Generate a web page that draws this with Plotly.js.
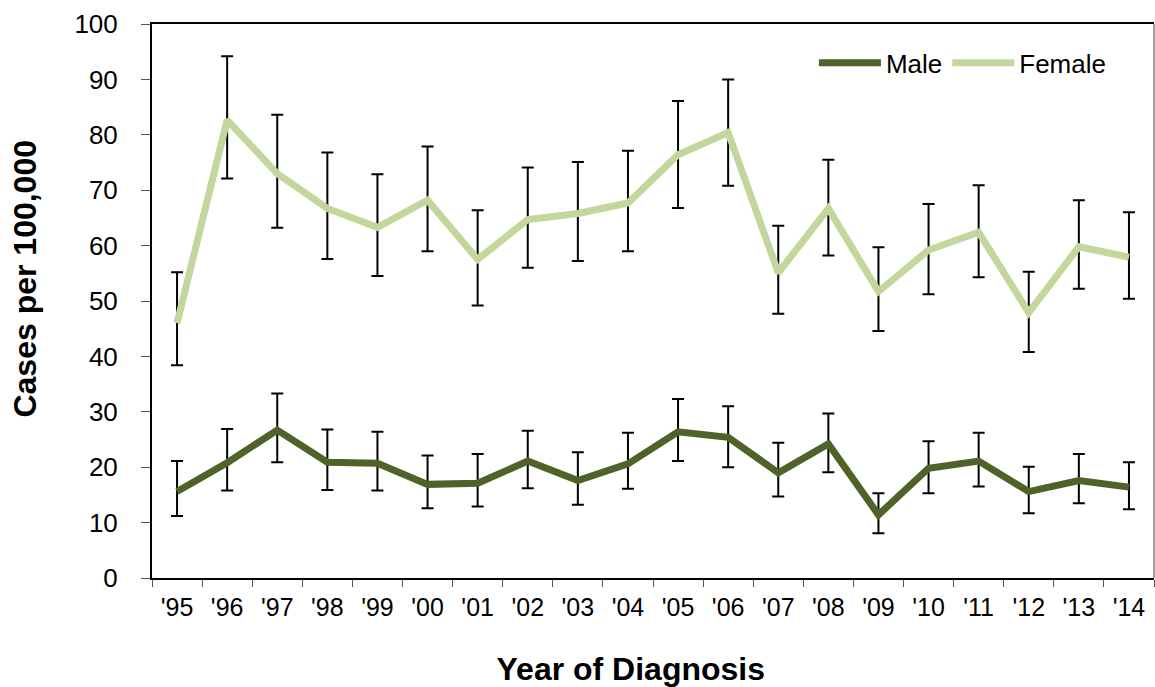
<!DOCTYPE html>
<html>
<head>
<meta charset="utf-8">
<script src="https://cdn.plot.ly/plotly-3.0.1.min.js"></script>
<style>html,body{margin:0;padding:0;background:#fff;}#chart{width:1155px;height:687px;}</style>
</head>
<body>
<div id="chart"></div>
<script>
const years = ["'95","'96","'97","'98","'99","'00","'01","'02","'03","'04","'05","'06","'07","'08","'09","'10","'11","'12","'13","'14"];

const maleRate  = [15.6, 20.8, 26.7, 20.9, 20.7, 16.9, 17.1, 21.1, 17.6, 20.6, 26.4, 25.4, 19.0, 24.2, 11.4, 19.8, 21.1, 15.6, 17.6, 16.4];
const maleUpper = [21.1, 26.9, 33.3, 26.8, 26.4, 22.1, 22.4, 26.6, 22.7, 26.2, 32.3, 31.0, 24.4, 29.7, 15.3, 24.7, 26.2, 20.1, 22.4, 20.9];
const maleLower = [11.2, 15.8, 20.9, 15.9, 15.8, 12.6, 12.9, 16.2, 13.2, 16.1, 21.1, 20.0, 14.7, 19.1,  8.1, 15.3, 16.5, 11.7, 13.5, 12.4];

const femaleRate  = [46.0, 82.7, 73.0, 66.7, 63.3, 68.2, 57.5, 64.7, 65.8, 67.7, 76.4, 80.4, 55.1, 66.7, 51.7, 59.2, 62.4, 47.9, 59.8, 57.9];
const femaleUpper = [55.2, 94.2, 83.6, 76.8, 72.9, 77.9, 66.4, 74.1, 75.1, 77.1, 86.1, 90.0, 63.6, 75.5, 59.7, 67.5, 70.9, 55.3, 68.2, 66.0];
const femaleLower = [38.4, 72.1, 63.2, 57.6, 54.5, 59.0, 49.2, 56.0, 57.2, 59.0, 66.8, 70.8, 47.7, 58.2, 44.6, 51.2, 54.3, 40.8, 52.2, 50.4];

function errPlus(v, u){ return v.map((x,i)=> +(u[i]-x).toFixed(2)); }
function errMinus(v, l){ return v.map((x,i)=> +(x-l[i]).toFixed(2)); }

const font = "Liberation Sans, Arial, Helvetica, sans-serif";
const pad = "\u00a0\u00a0\u00a0\u00a0\u00a0";

const traces = [
  {
    name: "Male", type: "scatter", mode: "lines",
    x: years, y: maleRate,
    line: {color: "#4F6228", width: 7},
    error_y: {type: "data", symmetric: false, array: errPlus(maleRate, maleUpper), arrayminus: errMinus(maleRate, maleLower), color: "#000", thickness: 2, width: 6}
  },
  {
    name: "Female", type: "scatter", mode: "lines",
    x: years, y: femaleRate,
    line: {color: "#C3D69B", width: 7},
    error_y: {type: "data", symmetric: false, array: errPlus(femaleRate, femaleUpper), arrayminus: errMinus(femaleRate, femaleLower), color: "#000", thickness: 2, width: 6}
  }
];

const layout = {
  width: 1155, height: 687,
  margin: {l: 152, r: 1, t: 24, b: 109},
  paper_bgcolor: "#fff", plot_bgcolor: "#fff",
  font: {family: font, color: "#000", size: 26},
  showlegend: true,
  legend: {orientation: "h", x: 0.958, xanchor: "right", y: 0.93, yanchor: "middle", itemwidth: 62, font: {size: 26, family: font}, bgcolor: "rgba(0,0,0,0)", traceorder: "normal"},
  xaxis: {
    type: "category", range: [-0.5, 19.5],
    showline: true, linecolor: "#000", linewidth: 2, mirror: true,
    ticks: "outside", tickson: "boundaries", ticklen: 7, tickcolor: "#555", tickwidth: 1,
    showgrid: false, zeroline: false,
    tickfont: {size: 25, family: font}, ticklabelstandoff: 6,
    title: {text: "<b>Year of Diagnosis" + pad + "</b>", font: {size: 32, family: font}, standoff: 43}
  },
  yaxis: {
    range: [0, 100], dtick: 10, tick0: 0,
    showline: true, linecolor: "#000", linewidth: 2,
    ticks: "outside", ticklen: 9, tickcolor: "#555", tickwidth: 1,
    showgrid: false, zeroline: false,
    tickfont: {size: 26, family: font}, ticklabelstandoff: 18,
    title: {text: "<b>" + pad + "Cases per 100,000</b>", font: {size: 32, family: font}, standoff: 28}
  },
  shapes: [
    {type: "line", xref: "paper", yref: "paper", x0: 1, x1: 1, y0: 0, y1: 1, line: {color: "#808080", width: 1.5}}
  ]
};

Plotly.newPlot("chart", traces, layout, {displayModeBar: false, staticPlot: true});
</script>
</body>
</html>
